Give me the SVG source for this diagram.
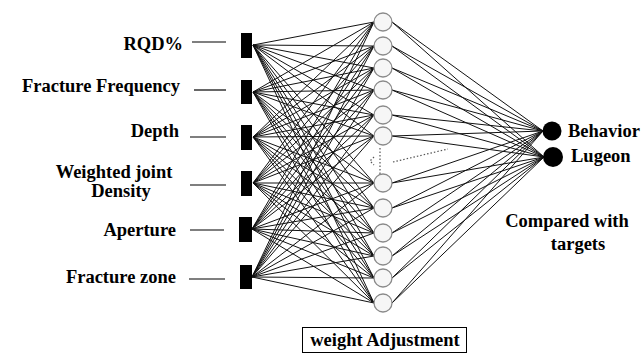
<svg xmlns="http://www.w3.org/2000/svg" width="643" height="356" viewBox="0 0 643 356">
<style>
text{font-family:'Liberation Serif','DejaVu Serif',serif;font-weight:700;font-size:18.5px;fill:#000}
.lead{stroke:#000;stroke-width:1.2}
.bar{fill:#000}
.hid{fill:#f6f6f6;stroke:#8a8a8a;stroke-width:1.3}
.out{fill:#000}
.w{fill:none;stroke:#111;stroke-width:1}
.dot{fill:none;stroke:#555;stroke-width:1.2;stroke-dasharray:1.5 2}
</style>
<rect width="643" height="356" fill="#fff"/>
<g id="connectors">
<path class="w" d="M253 45L374 22M253 45L374 46M253 45L374 68M253 45L374 90M253 45L374 115M253 45L374 136M253 45L374 183M253 45L374 208M253 45L374 233M253 45L374 256M253 45L374 278M253 45L374 303"/>
<path class="w" d="M253 92L374 22M253 92L374 46M253 92L374 68M253 92L374 90M253 92L374 115M253 92L374 136M253 92L374 183M253 92L374 208M253 92L374 233M253 92L374 256M253 92L374 278M253 92L374 303"/>
<path class="w" d="M253 137L374 22M253 137L374 46M253 137L374 68M253 137L374 90M253 137L374 115M253 137L374 136M253 137L374 183M253 137L374 208M253 137L374 233M253 137L374 256M253 137L374 278M253 137L374 303"/>
<path class="w" d="M253 183L374 22M253 183L374 46M253 183L374 68M253 183L374 90M253 183L374 115M253 183L374 136M253 183L374 183M253 183L374 208M253 183L374 233M253 183L374 256M253 183L374 278M253 183L374 303"/>
<path class="w" d="M252 229L374 22M252 229L374 46M252 229L374 68M252 229L374 90M252 229L374 115M252 229L374 136M252 229L374 183M252 229L374 208M252 229L374 233M252 229L374 256M252 229L374 278M252 229L374 303"/>
<path class="w" d="M252 277L374 22M252 277L374 46M252 277L374 68M252 277L374 90M252 277L374 115M252 277L374 136M252 277L374 183M252 277L374 208M252 277L374 233M252 277L374 256M252 277L374 278M252 277L374 303"/>
<path class="w" d="M392 22L543 131M392 46L543 131M392 68L543 131M392 90L543 131M392 115L543 131M392 136L543 131M392 183L543 131M392 208L543 131M392 233L543 131M392 256L543 131M392 278L543 131M392 303L543 131"/>
<path class="w" d="M392 22L544 157M392 46L544 157M392 68L544 157M392 90L544 157M392 115L544 157M392 136L544 157M392 183L544 157M392 208L544 157M392 233L544 157M392 256L544 157M392 278L544 157M392 303L544 157"/>
<path class="dot" d="M380 148V174M374 157L370 161L374 165M393 162L448 149"/>
</g>
<g id="in-rqd"><text x="183" y="50" text-anchor="end">RQD%</text><line class="lead" x1="192" y1="42" x2="226" y2="42"/><rect class="bar" x="241" y="33" width="11" height="25"/></g>
<g id="in-ff"><text x="180" y="92" text-anchor="end">Fracture Frequency</text><line class="lead" x1="194" y1="90" x2="226" y2="90"/><rect class="bar" x="241" y="80" width="11" height="24"/></g>
<g id="in-depth"><text x="179" y="137" text-anchor="end">Depth</text><line class="lead" x1="190" y1="137" x2="226" y2="137"/><rect class="bar" x="241" y="125" width="11" height="25"/></g>
<g id="in-wjd"><text x="114" y="178" text-anchor="middle">Weighted joint</text><text x="121" y="197" text-anchor="middle">Density</text><line class="lead" x1="190" y1="185" x2="226" y2="185"/><rect class="bar" x="241" y="171" width="11" height="25"/></g>
<g id="in-ap"><text x="176" y="236" text-anchor="end">Aperture</text><line class="lead" x1="190" y1="230" x2="224" y2="230"/><rect class="bar" x="239" y="217" width="13" height="25"/></g>
<g id="in-fz"><text x="176" y="283" text-anchor="end">Fracture zone</text><line class="lead" x1="189" y1="279" x2="225" y2="279"/><rect class="bar" x="240" y="265" width="12" height="24"/></g>
<g id="hidden">
<circle class="hid" cx="383" cy="22" r="9"/>
<circle class="hid" cx="383" cy="46" r="9"/>
<circle class="hid" cx="383" cy="68" r="9"/>
<circle class="hid" cx="383" cy="90" r="9"/>
<circle class="hid" cx="383" cy="115" r="9"/>
<circle class="hid" cx="383" cy="136" r="9"/>
<circle class="hid" cx="383" cy="183" r="9"/>
<circle class="hid" cx="383" cy="208" r="9"/>
<circle class="hid" cx="383" cy="233" r="9"/>
<circle class="hid" cx="383" cy="256" r="9"/>
<circle class="hid" cx="383" cy="278" r="9"/>
<circle class="hid" cx="383" cy="303" r="9"/>
</g>
<g id="out-behavior"><circle class="out" cx="552" cy="131" r="9.5"/><text x="568" y="137">Behavior</text></g>
<g id="out-lugeon"><circle class="out" cx="553" cy="157" r="10"/><text x="571" y="162">Lugeon</text></g>
<g id="compare"><text x="567" y="227" text-anchor="middle">Compared with</text><text x="578" y="250" text-anchor="middle">targets</text></g>
<g id="weight-adj"><rect x="302.5" y="327.5" width="164" height="25" fill="#fff" stroke="#000" stroke-width="1"/><text x="385" y="346" text-anchor="middle">weight Adjustment</text></g>
</svg>
